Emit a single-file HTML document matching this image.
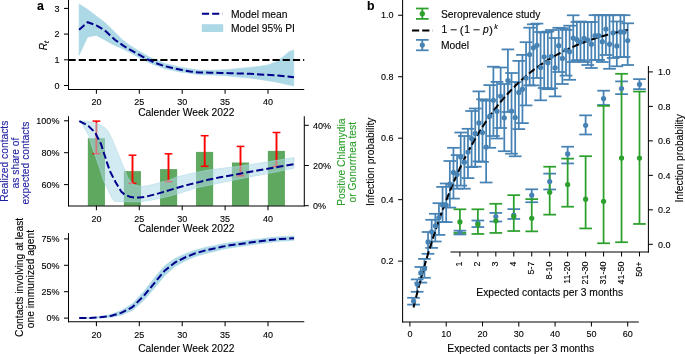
<!DOCTYPE html>
<html><head><meta charset="utf-8"><style>
html,body{margin:0;padding:0;background:#fff;width:685px;height:354px;overflow:hidden;}
svg{display:block;font-family:"Liberation Sans", sans-serif;will-change:transform;}
</style></head><body>
<svg width="685" height="354" viewBox="0 0 685 354" font-family='"Liberation Sans", sans-serif'><polygon points="79.10,4.00 87.70,9.50 96.30,16.00 104.90,22.60 113.40,30.70 122.00,39.50 130.00,45.50 140.00,51.63 150.00,57.36 165.00,63.57 180.00,67.22 200.00,70.20 215.00,70.20 226.00,69.78 238.00,68.44 250.00,67.40 260.00,66.30 268.00,64.88 275.00,62.35 280.00,59.20 285.00,55.27 289.00,51.73 293.80,49.98 293.80,85.88 289.00,84.93 285.00,84.07 280.00,82.90 275.00,81.95 268.00,80.68 260.00,79.40 250.00,78.10 238.00,77.04 226.00,75.68 215.00,75.10 200.00,74.70 180.00,71.92 165.00,68.77 150.00,63.26 140.00,58.13 130.00,52.60 122.00,48.40 113.40,44.80 104.90,40.00 96.30,35.40 87.70,36.90 79.10,55.20" fill="#add8e6" stroke="#add8e6" stroke-width="0.6"/>
<line x1="68.50" y1="59.90" x2="304.20" y2="59.90" stroke="#000" stroke-width="1.95" stroke-dasharray="7.2 3.0"/>
<path d="M79.10,29.70 L87.70,22.20 L96.30,25.40 L104.90,30.50 L110.00,35.30 L115.50,40.20 L124.00,46.10 L130.00,49.75 L138.50,54.40 L147.00,59.10 L155.40,62.90 L163.90,65.90 L172.40,68.00 L180.90,69.70 L190.00,71.60 L200.00,72.50 L210.00,72.70 L220.00,72.90 L230.00,73.20 L240.00,73.50 L250.00,73.80 L260.00,74.40 L270.00,75.00 L280.00,75.70 L294.00,77.30" fill="none" stroke="#00008b" stroke-width="2.0" stroke-dasharray="7.2 3.0"/>
<line x1="68.50" y1="0.00" x2="68.50" y2="89.80" stroke="#000" stroke-width="1.03" />
<line x1="68.00" y1="89.50" x2="304.20" y2="89.50" stroke="#000" stroke-width="1.03" />
<line x1="64.00" y1="8.40" x2="68.50" y2="8.40" stroke="#000" stroke-width="1.03" />
<text x="59.40" y="11.60" font-size="9.0" text-anchor="end" fill="#000" stroke="#000" stroke-width="0.12" font-weight="normal" font-style="normal" >3</text>
<line x1="64.00" y1="34.10" x2="68.50" y2="34.10" stroke="#000" stroke-width="1.03" />
<text x="59.40" y="37.30" font-size="9.0" text-anchor="end" fill="#000" stroke="#000" stroke-width="0.12" font-weight="normal" font-style="normal" >2</text>
<line x1="64.00" y1="59.80" x2="68.50" y2="59.80" stroke="#000" stroke-width="1.03" />
<text x="59.40" y="63.00" font-size="9.0" text-anchor="end" fill="#000" stroke="#000" stroke-width="0.12" font-weight="normal" font-style="normal" >1</text>
<line x1="64.00" y1="85.50" x2="68.50" y2="85.50" stroke="#000" stroke-width="1.03" />
<text x="59.40" y="88.70" font-size="9.0" text-anchor="end" fill="#000" stroke="#000" stroke-width="0.12" font-weight="normal" font-style="normal" >0</text>
<line x1="96.40" y1="89.30" x2="96.40" y2="93.80" stroke="#000" stroke-width="1.03" />
<text x="96.40" y="105.40" font-size="9.0" text-anchor="middle" fill="#000" stroke="#000" stroke-width="0.12" font-weight="normal" font-style="normal" >20</text>
<line x1="139.30" y1="89.30" x2="139.30" y2="93.80" stroke="#000" stroke-width="1.03" />
<text x="139.30" y="105.40" font-size="9.0" text-anchor="middle" fill="#000" stroke="#000" stroke-width="0.12" font-weight="normal" font-style="normal" >25</text>
<line x1="182.20" y1="89.30" x2="182.20" y2="93.80" stroke="#000" stroke-width="1.03" />
<text x="182.20" y="105.40" font-size="9.0" text-anchor="middle" fill="#000" stroke="#000" stroke-width="0.12" font-weight="normal" font-style="normal" >30</text>
<line x1="225.10" y1="89.30" x2="225.10" y2="93.80" stroke="#000" stroke-width="1.03" />
<text x="225.10" y="105.40" font-size="9.0" text-anchor="middle" fill="#000" stroke="#000" stroke-width="0.12" font-weight="normal" font-style="normal" >35</text>
<line x1="268.00" y1="89.30" x2="268.00" y2="93.80" stroke="#000" stroke-width="1.03" />
<text x="268.00" y="105.40" font-size="9.0" text-anchor="middle" fill="#000" stroke="#000" stroke-width="0.12" font-weight="normal" font-style="normal" >40</text>
<text x="186.30" y="115.70" font-size="10.28" text-anchor="middle" fill="#000" stroke="#000" stroke-width="0.12" font-weight="normal" font-style="normal" >Calender Week 2022</text>
<text transform="translate(47.3,50.3) rotate(-90)" font-size="10.28" fill="#000" stroke="#000" stroke-width="0.12" font-style="italic">R<tspan font-size="7.2" dy="2.0">t</tspan></text>
<line x1="201.90" y1="13.80" x2="222.50" y2="13.80" stroke="#00008b" stroke-width="2.0" stroke-dasharray="7.2 3.0"/>
<rect x="201.8" y="24.2" width="21.4" height="7.8" fill="#add8e6"/>
<text x="231.00" y="17.60" font-size="10.28" text-anchor="start" fill="#000" stroke="#000" stroke-width="0.12" font-weight="normal" font-style="normal" >Model mean</text>
<text x="231.00" y="31.60" font-size="10.28" text-anchor="start" fill="#000" stroke="#000" stroke-width="0.12" font-weight="normal" font-style="normal" >Model 95% PI</text>
<text x="37.10" y="9.70" font-size="12.3" text-anchor="start" fill="#000" stroke="#000" stroke-width="0.12" font-weight="bold" font-style="normal" >a</text>
<rect x="87.85" y="138.20" width="17.1" height="67.60" fill="#5fa85f"/>
<rect x="123.85" y="171.10" width="17.1" height="34.70" fill="#5fa85f"/>
<rect x="160.05" y="169.10" width="17.1" height="36.70" fill="#5fa85f"/>
<rect x="196.05" y="151.90" width="17.1" height="53.90" fill="#5fa85f"/>
<rect x="231.95" y="162.50" width="17.1" height="43.30" fill="#5fa85f"/>
<rect x="267.85" y="150.90" width="17.1" height="54.90" fill="#5fa85f"/>
<line x1="96.40" y1="121.10" x2="96.40" y2="153.70" stroke="#ff0000" stroke-width="1.9" />
<line x1="92.50" y1="121.10" x2="100.30" y2="121.10" stroke="#ff0000" stroke-width="1.5" />
<line x1="92.50" y1="153.70" x2="100.30" y2="153.70" stroke="#ff0000" stroke-width="1.5" />
<line x1="132.50" y1="155.20" x2="132.50" y2="183.30" stroke="#ff0000" stroke-width="1.9" />
<line x1="128.60" y1="155.20" x2="136.40" y2="155.20" stroke="#ff0000" stroke-width="1.5" />
<line x1="128.60" y1="183.30" x2="136.40" y2="183.30" stroke="#ff0000" stroke-width="1.5" />
<line x1="168.50" y1="153.80" x2="168.50" y2="181.60" stroke="#ff0000" stroke-width="1.9" />
<line x1="164.60" y1="153.80" x2="172.40" y2="153.80" stroke="#ff0000" stroke-width="1.5" />
<line x1="164.60" y1="181.60" x2="172.40" y2="181.60" stroke="#ff0000" stroke-width="1.5" />
<line x1="204.70" y1="135.70" x2="204.70" y2="166.30" stroke="#ff0000" stroke-width="1.9" />
<line x1="200.80" y1="135.70" x2="208.60" y2="135.70" stroke="#ff0000" stroke-width="1.5" />
<line x1="200.80" y1="166.30" x2="208.60" y2="166.30" stroke="#ff0000" stroke-width="1.5" />
<line x1="240.50" y1="146.40" x2="240.50" y2="175.80" stroke="#ff0000" stroke-width="1.9" />
<line x1="236.60" y1="146.40" x2="244.40" y2="146.40" stroke="#ff0000" stroke-width="1.5" />
<line x1="236.60" y1="175.80" x2="244.40" y2="175.80" stroke="#ff0000" stroke-width="1.5" />
<line x1="276.50" y1="132.50" x2="276.50" y2="166.50" stroke="#ff0000" stroke-width="1.9" />
<line x1="272.60" y1="132.50" x2="280.40" y2="132.50" stroke="#ff0000" stroke-width="1.5" />
<line x1="272.60" y1="166.50" x2="280.40" y2="166.50" stroke="#ff0000" stroke-width="1.5" />
<polygon points="79.30,120.70 88.70,121.40 96.30,123.20 104.00,127.00 108.00,131.00 112.50,140.00 118.60,155.00 124.80,170.00 128.00,178.00 131.60,182.70 135.00,185.20 141.00,186.40 147.80,185.80 154.00,184.30 160.00,182.50 168.00,180.60 177.10,176.90 190.00,173.70 208.00,170.10 240.00,166.10 268.00,161.80 294.00,157.60 294.00,168.30 268.00,173.50 240.00,178.80 208.00,185.40 195.80,187.90 180.00,193.20 168.00,196.50 152.40,199.90 139.70,201.90 127.00,201.80 114.50,201.20 112.50,199.30 108.00,190.00 103.20,180.00 100.20,170.00 95.00,155.00 91.70,146.00 88.70,135.50 85.00,129.00 82.00,124.00 79.30,120.70" fill="rgba(173,216,230,0.55)" stroke="rgba(173,216,230,0.55)" stroke-width="1"/>
<path d="M79.30,121.10 L85.30,124.00 L88.70,126.20 L93.40,130.80 L95.50,133.40 L98.50,139.30 L101.00,144.00 L103.40,151.70 L105.60,158.00 L107.00,162.70 L110.00,171.30 L115.50,182.00 L121.40,191.90 L125.00,194.80 L129.90,196.70 L134.00,197.60 L139.70,197.60 L145.00,196.90 L150.00,195.60 L156.60,194.00 L162.00,192.40 L171.20,189.60 L180.00,187.00 L190.70,184.10 L200.00,181.90 L208.00,179.80 L220.00,177.30 L240.00,173.70 L260.00,170.00 L280.00,166.50 L294.00,164.10" fill="none" stroke="#00008b" stroke-width="2.0" stroke-dasharray="7.2 3.0"/>
<line x1="68.50" y1="116.20" x2="68.50" y2="206.30" stroke="#000" stroke-width="1.03" />
<line x1="304.30" y1="116.20" x2="304.30" y2="206.30" stroke="#000" stroke-width="1.03" />
<line x1="68.00" y1="205.90" x2="304.80" y2="205.90" stroke="#000" stroke-width="1.03" />
<line x1="64.00" y1="120.80" x2="68.50" y2="120.80" stroke="#000" stroke-width="1.03" />
<text x="59.40" y="124.00" font-size="9.0" text-anchor="end" fill="#000" stroke="#000" stroke-width="0.12" font-weight="normal" font-style="normal" >100%</text>
<line x1="64.00" y1="152.70" x2="68.50" y2="152.70" stroke="#000" stroke-width="1.03" />
<text x="59.40" y="155.90" font-size="9.0" text-anchor="end" fill="#000" stroke="#000" stroke-width="0.12" font-weight="normal" font-style="normal" >80%</text>
<line x1="64.00" y1="184.60" x2="68.50" y2="184.60" stroke="#000" stroke-width="1.03" />
<text x="59.40" y="187.80" font-size="9.0" text-anchor="end" fill="#000" stroke="#000" stroke-width="0.12" font-weight="normal" font-style="normal" >60%</text>
<line x1="304.30" y1="125.30" x2="308.80" y2="125.30" stroke="#000" stroke-width="1.03" />
<text x="313.00" y="128.50" font-size="9.0" text-anchor="start" fill="#000" stroke="#000" stroke-width="0.12" font-weight="normal" font-style="normal" >40%</text>
<line x1="304.30" y1="165.50" x2="308.80" y2="165.50" stroke="#000" stroke-width="1.03" />
<text x="313.00" y="168.70" font-size="9.0" text-anchor="start" fill="#000" stroke="#000" stroke-width="0.12" font-weight="normal" font-style="normal" >20%</text>
<line x1="304.30" y1="205.70" x2="308.80" y2="205.70" stroke="#000" stroke-width="1.03" />
<text x="313.00" y="208.90" font-size="9.0" text-anchor="start" fill="#000" stroke="#000" stroke-width="0.12" font-weight="normal" font-style="normal" >0%</text>
<line x1="96.40" y1="205.80" x2="96.40" y2="210.30" stroke="#000" stroke-width="1.03" />
<text x="96.40" y="221.90" font-size="9.0" text-anchor="middle" fill="#000" stroke="#000" stroke-width="0.12" font-weight="normal" font-style="normal" >20</text>
<line x1="139.30" y1="205.80" x2="139.30" y2="210.30" stroke="#000" stroke-width="1.03" />
<text x="139.30" y="221.90" font-size="9.0" text-anchor="middle" fill="#000" stroke="#000" stroke-width="0.12" font-weight="normal" font-style="normal" >25</text>
<line x1="182.20" y1="205.80" x2="182.20" y2="210.30" stroke="#000" stroke-width="1.03" />
<text x="182.20" y="221.90" font-size="9.0" text-anchor="middle" fill="#000" stroke="#000" stroke-width="0.12" font-weight="normal" font-style="normal" >30</text>
<line x1="225.10" y1="205.80" x2="225.10" y2="210.30" stroke="#000" stroke-width="1.03" />
<text x="225.10" y="221.90" font-size="9.0" text-anchor="middle" fill="#000" stroke="#000" stroke-width="0.12" font-weight="normal" font-style="normal" >35</text>
<line x1="268.00" y1="205.80" x2="268.00" y2="210.30" stroke="#000" stroke-width="1.03" />
<text x="268.00" y="221.90" font-size="9.0" text-anchor="middle" fill="#000" stroke="#000" stroke-width="0.12" font-weight="normal" font-style="normal" >40</text>
<text x="186.30" y="231.60" font-size="10.28" text-anchor="middle" fill="#000" stroke="#000" stroke-width="0.12" font-weight="normal" font-style="normal" >Calender Week 2022</text>
<text transform="translate(0,0) rotate(-90)" font-size="10.28" fill="#1f1fa0" stroke="#1f1fa0" stroke-width="0.12" text-anchor="middle"><tspan x="-161.2" y="7.9">Realized contacts</tspan><tspan x="-163.0" y="18.6">as share of</tspan><tspan x="-163.0" y="29.4">expected contacts</tspan></text>
<text transform="translate(0,0) rotate(-90)" font-size="10.28" fill="#2ca02c" stroke="#2ca02c" stroke-width="0.12" text-anchor="middle"><tspan x="-162.2" y="345.0">Positive Chlamydia</tspan><tspan x="-162.2" y="356.0">or Gonorrhea test</tspan></text>
<polygon points="79.20,317.80 90.00,317.60 100.00,316.40 110.60,314.60 121.20,310.50 132.28,303.80 143.74,291.40 155.01,277.10 164.95,265.40 174.86,258.40 184.95,253.90 195.30,250.00 205.90,247.20 216.00,245.20 221.70,244.00 230.00,242.60 240.00,241.40 250.00,240.10 260.00,238.90 270.00,237.60 280.00,236.70 294.00,235.90 294.00,240.50 280.00,241.30 270.00,242.40 260.00,243.70 250.00,245.10 240.00,246.60 230.00,248.00 221.70,249.60 216.00,251.20 205.90,253.40 195.30,256.60 184.95,261.10 174.86,266.80 164.95,275.40 155.01,287.50 143.74,300.60 132.28,310.60 121.20,315.30 110.60,317.40 100.00,318.00 90.00,318.40 79.20,318.40" fill="#add8e6" stroke="#add8e6" stroke-width="0.5"/>
<path d="M79.20,318.10 L90.00,318.00 L100.00,317.20 L110.60,316.00 L121.20,312.90 L132.28,307.20 L143.74,296.00 L155.01,282.30 L164.95,270.40 L174.86,262.60 L184.95,257.50 L195.30,253.30 L205.90,250.30 L216.00,248.20 L221.70,246.80 L230.00,245.30 L240.00,244.00 L250.00,242.60 L260.00,241.30 L270.00,240.00 L280.00,239.00 L294.00,238.20" fill="none" stroke="#00008b" stroke-width="2.0" stroke-dasharray="7.2 3.0"/>
<line x1="68.50" y1="233.10" x2="68.50" y2="322.30" stroke="#000" stroke-width="1.03" />
<line x1="68.00" y1="321.80" x2="304.30" y2="321.80" stroke="#000" stroke-width="1.03" />
<line x1="64.00" y1="238.90" x2="68.50" y2="238.90" stroke="#000" stroke-width="1.03" />
<text x="59.40" y="242.10" font-size="9.0" text-anchor="end" fill="#000" stroke="#000" stroke-width="0.12" font-weight="normal" font-style="normal" >75%</text>
<line x1="64.00" y1="265.30" x2="68.50" y2="265.30" stroke="#000" stroke-width="1.03" />
<text x="59.40" y="268.50" font-size="9.0" text-anchor="end" fill="#000" stroke="#000" stroke-width="0.12" font-weight="normal" font-style="normal" >50%</text>
<line x1="64.00" y1="291.70" x2="68.50" y2="291.70" stroke="#000" stroke-width="1.03" />
<text x="59.40" y="294.90" font-size="9.0" text-anchor="end" fill="#000" stroke="#000" stroke-width="0.12" font-weight="normal" font-style="normal" >25%</text>
<line x1="64.00" y1="318.10" x2="68.50" y2="318.10" stroke="#000" stroke-width="1.03" />
<text x="59.40" y="321.30" font-size="9.0" text-anchor="end" fill="#000" stroke="#000" stroke-width="0.12" font-weight="normal" font-style="normal" >0%</text>
<line x1="96.40" y1="321.80" x2="96.40" y2="326.30" stroke="#000" stroke-width="1.03" />
<text x="96.40" y="337.90" font-size="9.0" text-anchor="middle" fill="#000" stroke="#000" stroke-width="0.12" font-weight="normal" font-style="normal" >20</text>
<line x1="139.30" y1="321.80" x2="139.30" y2="326.30" stroke="#000" stroke-width="1.03" />
<text x="139.30" y="337.90" font-size="9.0" text-anchor="middle" fill="#000" stroke="#000" stroke-width="0.12" font-weight="normal" font-style="normal" >25</text>
<line x1="182.20" y1="321.80" x2="182.20" y2="326.30" stroke="#000" stroke-width="1.03" />
<text x="182.20" y="337.90" font-size="9.0" text-anchor="middle" fill="#000" stroke="#000" stroke-width="0.12" font-weight="normal" font-style="normal" >30</text>
<line x1="225.10" y1="321.80" x2="225.10" y2="326.30" stroke="#000" stroke-width="1.03" />
<text x="225.10" y="337.90" font-size="9.0" text-anchor="middle" fill="#000" stroke="#000" stroke-width="0.12" font-weight="normal" font-style="normal" >35</text>
<line x1="268.00" y1="321.80" x2="268.00" y2="326.30" stroke="#000" stroke-width="1.03" />
<text x="268.00" y="337.90" font-size="9.0" text-anchor="middle" fill="#000" stroke="#000" stroke-width="0.12" font-weight="normal" font-style="normal" >40</text>
<text x="186.30" y="351.90" font-size="10.28" text-anchor="middle" fill="#000" stroke="#000" stroke-width="0.12" font-weight="normal" font-style="normal" >Calender Week 2022</text>
<text transform="translate(0,0) rotate(-90)" font-size="10.28" fill="#000" stroke="#000" stroke-width="0.12" text-anchor="middle"><tspan x="-277.4" y="22.9">Contacts involving at least</tspan><tspan x="-279.1" y="33.9">one immunized agent</tspan></text>
<line x1="413.53" y1="297.80" x2="413.53" y2="304.60" stroke="#4682b4" stroke-width="1.75" />
<line x1="407.18" y1="297.80" x2="419.88" y2="297.80" stroke="#4682b4" stroke-width="1.75" />
<line x1="407.18" y1="304.60" x2="419.88" y2="304.60" stroke="#4682b4" stroke-width="1.75" />
<line x1="417.16" y1="279.40" x2="417.16" y2="291.80" stroke="#4682b4" stroke-width="1.75" />
<line x1="410.81" y1="279.40" x2="423.51" y2="279.40" stroke="#4682b4" stroke-width="1.75" />
<line x1="410.81" y1="291.80" x2="423.51" y2="291.80" stroke="#4682b4" stroke-width="1.75" />
<line x1="420.79" y1="267.00" x2="420.79" y2="282.60" stroke="#4682b4" stroke-width="1.75" />
<line x1="414.44" y1="267.00" x2="427.14" y2="267.00" stroke="#4682b4" stroke-width="1.75" />
<line x1="414.44" y1="282.60" x2="427.14" y2="282.60" stroke="#4682b4" stroke-width="1.75" />
<line x1="424.42" y1="258.90" x2="424.42" y2="277.80" stroke="#4682b4" stroke-width="1.75" />
<line x1="418.07" y1="258.90" x2="430.77" y2="258.90" stroke="#4682b4" stroke-width="1.75" />
<line x1="418.07" y1="277.80" x2="430.77" y2="277.80" stroke="#4682b4" stroke-width="1.75" />
<line x1="428.05" y1="232.00" x2="428.05" y2="253.80" stroke="#4682b4" stroke-width="1.75" />
<line x1="421.70" y1="232.00" x2="434.40" y2="232.00" stroke="#4682b4" stroke-width="1.75" />
<line x1="421.70" y1="253.80" x2="434.40" y2="253.80" stroke="#4682b4" stroke-width="1.75" />
<line x1="431.68" y1="219.80" x2="431.68" y2="247.90" stroke="#4682b4" stroke-width="1.75" />
<line x1="425.33" y1="219.80" x2="438.03" y2="219.80" stroke="#4682b4" stroke-width="1.75" />
<line x1="425.33" y1="247.90" x2="438.03" y2="247.90" stroke="#4682b4" stroke-width="1.75" />
<line x1="435.31" y1="213.80" x2="435.31" y2="241.50" stroke="#4682b4" stroke-width="1.75" />
<line x1="428.96" y1="213.80" x2="441.66" y2="213.80" stroke="#4682b4" stroke-width="1.75" />
<line x1="428.96" y1="241.50" x2="441.66" y2="241.50" stroke="#4682b4" stroke-width="1.75" />
<line x1="438.94" y1="203.20" x2="438.94" y2="234.90" stroke="#4682b4" stroke-width="1.75" />
<line x1="432.59" y1="203.20" x2="445.29" y2="203.20" stroke="#4682b4" stroke-width="1.75" />
<line x1="432.59" y1="234.90" x2="445.29" y2="234.90" stroke="#4682b4" stroke-width="1.75" />
<line x1="442.57" y1="186.90" x2="442.57" y2="222.00" stroke="#4682b4" stroke-width="1.75" />
<line x1="436.22" y1="186.90" x2="448.92" y2="186.90" stroke="#4682b4" stroke-width="1.75" />
<line x1="436.22" y1="222.00" x2="448.92" y2="222.00" stroke="#4682b4" stroke-width="1.75" />
<line x1="446.20" y1="183.50" x2="446.20" y2="222.10" stroke="#4682b4" stroke-width="1.75" />
<line x1="439.85" y1="183.50" x2="452.55" y2="183.50" stroke="#4682b4" stroke-width="1.75" />
<line x1="439.85" y1="222.10" x2="452.55" y2="222.10" stroke="#4682b4" stroke-width="1.75" />
<line x1="449.83" y1="161.00" x2="449.83" y2="207.60" stroke="#4682b4" stroke-width="1.75" />
<line x1="443.48" y1="161.00" x2="456.18" y2="161.00" stroke="#4682b4" stroke-width="1.75" />
<line x1="443.48" y1="207.60" x2="456.18" y2="207.60" stroke="#4682b4" stroke-width="1.75" />
<line x1="453.46" y1="147.80" x2="453.46" y2="198.60" stroke="#4682b4" stroke-width="1.75" />
<line x1="447.11" y1="147.80" x2="459.81" y2="147.80" stroke="#4682b4" stroke-width="1.75" />
<line x1="447.11" y1="198.60" x2="459.81" y2="198.60" stroke="#4682b4" stroke-width="1.75" />
<line x1="457.09" y1="155.10" x2="457.09" y2="188.70" stroke="#4682b4" stroke-width="1.75" />
<line x1="450.74" y1="155.10" x2="463.44" y2="155.10" stroke="#4682b4" stroke-width="1.75" />
<line x1="450.74" y1="188.70" x2="463.44" y2="188.70" stroke="#4682b4" stroke-width="1.75" />
<line x1="460.72" y1="132.50" x2="460.72" y2="185.60" stroke="#4682b4" stroke-width="1.75" />
<line x1="454.37" y1="132.50" x2="467.07" y2="132.50" stroke="#4682b4" stroke-width="1.75" />
<line x1="454.37" y1="185.60" x2="467.07" y2="185.60" stroke="#4682b4" stroke-width="1.75" />
<line x1="464.35" y1="136.00" x2="464.35" y2="188.70" stroke="#4682b4" stroke-width="1.75" />
<line x1="458.00" y1="136.00" x2="470.70" y2="136.00" stroke="#4682b4" stroke-width="1.75" />
<line x1="458.00" y1="188.70" x2="470.70" y2="188.70" stroke="#4682b4" stroke-width="1.75" />
<line x1="467.98" y1="128.80" x2="467.98" y2="178.10" stroke="#4682b4" stroke-width="1.75" />
<line x1="461.63" y1="128.80" x2="474.33" y2="128.80" stroke="#4682b4" stroke-width="1.75" />
<line x1="461.63" y1="178.10" x2="474.33" y2="178.10" stroke="#4682b4" stroke-width="1.75" />
<line x1="471.61" y1="111.00" x2="471.61" y2="167.10" stroke="#4682b4" stroke-width="1.75" />
<line x1="465.26" y1="111.00" x2="477.96" y2="111.00" stroke="#4682b4" stroke-width="1.75" />
<line x1="465.26" y1="167.10" x2="477.96" y2="167.10" stroke="#4682b4" stroke-width="1.75" />
<line x1="475.24" y1="108.50" x2="475.24" y2="166.70" stroke="#4682b4" stroke-width="1.75" />
<line x1="468.89" y1="108.50" x2="481.59" y2="108.50" stroke="#4682b4" stroke-width="1.75" />
<line x1="468.89" y1="166.70" x2="481.59" y2="166.70" stroke="#4682b4" stroke-width="1.75" />
<line x1="478.87" y1="91.40" x2="478.87" y2="161.40" stroke="#4682b4" stroke-width="1.75" />
<line x1="472.52" y1="91.40" x2="485.22" y2="91.40" stroke="#4682b4" stroke-width="1.75" />
<line x1="472.52" y1="161.40" x2="485.22" y2="161.40" stroke="#4682b4" stroke-width="1.75" />
<line x1="482.50" y1="99.30" x2="482.50" y2="161.90" stroke="#4682b4" stroke-width="1.75" />
<line x1="476.15" y1="99.30" x2="488.85" y2="99.30" stroke="#4682b4" stroke-width="1.75" />
<line x1="476.15" y1="161.90" x2="488.85" y2="161.90" stroke="#4682b4" stroke-width="1.75" />
<line x1="486.13" y1="100.70" x2="486.13" y2="182.50" stroke="#4682b4" stroke-width="1.75" />
<line x1="479.78" y1="100.70" x2="492.48" y2="100.70" stroke="#4682b4" stroke-width="1.75" />
<line x1="479.78" y1="182.50" x2="492.48" y2="182.50" stroke="#4682b4" stroke-width="1.75" />
<line x1="489.76" y1="85.10" x2="489.76" y2="147.80" stroke="#4682b4" stroke-width="1.75" />
<line x1="483.41" y1="85.10" x2="496.11" y2="85.10" stroke="#4682b4" stroke-width="1.75" />
<line x1="483.41" y1="147.80" x2="496.11" y2="147.80" stroke="#4682b4" stroke-width="1.75" />
<line x1="493.39" y1="66.70" x2="493.39" y2="136.00" stroke="#4682b4" stroke-width="1.75" />
<line x1="487.04" y1="66.70" x2="499.74" y2="66.70" stroke="#4682b4" stroke-width="1.75" />
<line x1="487.04" y1="136.00" x2="499.74" y2="136.00" stroke="#4682b4" stroke-width="1.75" />
<line x1="497.02" y1="81.90" x2="497.02" y2="138.50" stroke="#4682b4" stroke-width="1.75" />
<line x1="490.67" y1="81.90" x2="503.37" y2="81.90" stroke="#4682b4" stroke-width="1.75" />
<line x1="490.67" y1="138.50" x2="503.37" y2="138.50" stroke="#4682b4" stroke-width="1.75" />
<line x1="500.65" y1="67.50" x2="500.65" y2="128.00" stroke="#4682b4" stroke-width="1.75" />
<line x1="494.30" y1="67.50" x2="507.00" y2="67.50" stroke="#4682b4" stroke-width="1.75" />
<line x1="494.30" y1="128.00" x2="507.00" y2="128.00" stroke="#4682b4" stroke-width="1.75" />
<line x1="504.28" y1="84.00" x2="504.28" y2="151.20" stroke="#4682b4" stroke-width="1.75" />
<line x1="497.93" y1="84.00" x2="510.63" y2="84.00" stroke="#4682b4" stroke-width="1.75" />
<line x1="497.93" y1="151.20" x2="510.63" y2="151.20" stroke="#4682b4" stroke-width="1.75" />
<line x1="507.91" y1="49.40" x2="507.91" y2="112.00" stroke="#4682b4" stroke-width="1.75" />
<line x1="501.56" y1="49.40" x2="514.26" y2="49.40" stroke="#4682b4" stroke-width="1.75" />
<line x1="501.56" y1="112.00" x2="514.26" y2="112.00" stroke="#4682b4" stroke-width="1.75" />
<line x1="511.54" y1="73.00" x2="511.54" y2="153.70" stroke="#4682b4" stroke-width="1.75" />
<line x1="505.19" y1="73.00" x2="517.89" y2="73.00" stroke="#4682b4" stroke-width="1.75" />
<line x1="505.19" y1="153.70" x2="517.89" y2="153.70" stroke="#4682b4" stroke-width="1.75" />
<line x1="515.17" y1="82.00" x2="515.17" y2="156.30" stroke="#4682b4" stroke-width="1.75" />
<line x1="508.82" y1="82.00" x2="521.52" y2="82.00" stroke="#4682b4" stroke-width="1.75" />
<line x1="508.82" y1="156.30" x2="521.52" y2="156.30" stroke="#4682b4" stroke-width="1.75" />
<line x1="518.80" y1="60.90" x2="518.80" y2="129.10" stroke="#4682b4" stroke-width="1.75" />
<line x1="512.45" y1="60.90" x2="525.15" y2="60.90" stroke="#4682b4" stroke-width="1.75" />
<line x1="512.45" y1="129.10" x2="525.15" y2="129.10" stroke="#4682b4" stroke-width="1.75" />
<line x1="522.43" y1="54.90" x2="522.43" y2="123.10" stroke="#4682b4" stroke-width="1.75" />
<line x1="516.08" y1="54.90" x2="528.78" y2="54.90" stroke="#4682b4" stroke-width="1.75" />
<line x1="516.08" y1="123.10" x2="528.78" y2="123.10" stroke="#4682b4" stroke-width="1.75" />
<line x1="526.06" y1="42.20" x2="526.06" y2="105.40" stroke="#4682b4" stroke-width="1.75" />
<line x1="519.71" y1="42.20" x2="532.41" y2="42.20" stroke="#4682b4" stroke-width="1.75" />
<line x1="519.71" y1="105.40" x2="532.41" y2="105.40" stroke="#4682b4" stroke-width="1.75" />
<line x1="529.69" y1="27.70" x2="529.69" y2="85.40" stroke="#4682b4" stroke-width="1.75" />
<line x1="523.34" y1="27.70" x2="536.04" y2="27.70" stroke="#4682b4" stroke-width="1.75" />
<line x1="523.34" y1="85.40" x2="536.04" y2="85.40" stroke="#4682b4" stroke-width="1.75" />
<line x1="533.32" y1="24.30" x2="533.32" y2="85.40" stroke="#4682b4" stroke-width="1.75" />
<line x1="526.97" y1="24.30" x2="539.67" y2="24.30" stroke="#4682b4" stroke-width="1.75" />
<line x1="526.97" y1="85.40" x2="539.67" y2="85.40" stroke="#4682b4" stroke-width="1.75" />
<line x1="536.95" y1="23.60" x2="536.95" y2="78.00" stroke="#4682b4" stroke-width="1.75" />
<line x1="530.60" y1="23.60" x2="543.30" y2="23.60" stroke="#4682b4" stroke-width="1.75" />
<line x1="530.60" y1="78.00" x2="543.30" y2="78.00" stroke="#4682b4" stroke-width="1.75" />
<line x1="540.58" y1="32.00" x2="540.58" y2="100.30" stroke="#4682b4" stroke-width="1.75" />
<line x1="534.23" y1="32.00" x2="546.93" y2="32.00" stroke="#4682b4" stroke-width="1.75" />
<line x1="534.23" y1="100.30" x2="546.93" y2="100.30" stroke="#4682b4" stroke-width="1.75" />
<line x1="544.21" y1="32.50" x2="544.21" y2="88.00" stroke="#4682b4" stroke-width="1.75" />
<line x1="537.86" y1="32.50" x2="550.56" y2="32.50" stroke="#4682b4" stroke-width="1.75" />
<line x1="537.86" y1="88.00" x2="550.56" y2="88.00" stroke="#4682b4" stroke-width="1.75" />
<line x1="547.84" y1="31.60" x2="547.84" y2="89.20" stroke="#4682b4" stroke-width="1.75" />
<line x1="541.49" y1="31.60" x2="554.19" y2="31.60" stroke="#4682b4" stroke-width="1.75" />
<line x1="541.49" y1="89.20" x2="554.19" y2="89.20" stroke="#4682b4" stroke-width="1.75" />
<line x1="551.47" y1="30.00" x2="551.47" y2="88.30" stroke="#4682b4" stroke-width="1.75" />
<line x1="545.12" y1="30.00" x2="557.82" y2="30.00" stroke="#4682b4" stroke-width="1.75" />
<line x1="545.12" y1="88.30" x2="557.82" y2="88.30" stroke="#4682b4" stroke-width="1.75" />
<line x1="555.10" y1="38.00" x2="555.10" y2="96.40" stroke="#4682b4" stroke-width="1.75" />
<line x1="548.75" y1="38.00" x2="561.45" y2="38.00" stroke="#4682b4" stroke-width="1.75" />
<line x1="548.75" y1="96.40" x2="561.45" y2="96.40" stroke="#4682b4" stroke-width="1.75" />
<line x1="558.73" y1="27.80" x2="558.73" y2="72.00" stroke="#4682b4" stroke-width="1.75" />
<line x1="552.38" y1="27.80" x2="565.08" y2="27.80" stroke="#4682b4" stroke-width="1.75" />
<line x1="552.38" y1="72.00" x2="565.08" y2="72.00" stroke="#4682b4" stroke-width="1.75" />
<line x1="562.36" y1="28.20" x2="562.36" y2="84.00" stroke="#4682b4" stroke-width="1.75" />
<line x1="556.01" y1="28.20" x2="568.71" y2="28.20" stroke="#4682b4" stroke-width="1.75" />
<line x1="556.01" y1="84.00" x2="568.71" y2="84.00" stroke="#4682b4" stroke-width="1.75" />
<line x1="565.99" y1="29.90" x2="565.99" y2="75.60" stroke="#4682b4" stroke-width="1.75" />
<line x1="559.64" y1="29.90" x2="572.34" y2="29.90" stroke="#4682b4" stroke-width="1.75" />
<line x1="559.64" y1="75.60" x2="572.34" y2="75.60" stroke="#4682b4" stroke-width="1.75" />
<line x1="569.62" y1="25.70" x2="569.62" y2="79.80" stroke="#4682b4" stroke-width="1.75" />
<line x1="563.27" y1="25.70" x2="575.97" y2="25.70" stroke="#4682b4" stroke-width="1.75" />
<line x1="563.27" y1="79.80" x2="575.97" y2="79.80" stroke="#4682b4" stroke-width="1.75" />
<line x1="573.25" y1="15.30" x2="573.25" y2="62.00" stroke="#4682b4" stroke-width="1.75" />
<line x1="566.90" y1="15.30" x2="579.60" y2="15.30" stroke="#4682b4" stroke-width="1.75" />
<line x1="566.90" y1="62.00" x2="579.60" y2="62.00" stroke="#4682b4" stroke-width="1.75" />
<line x1="576.88" y1="22.00" x2="576.88" y2="60.30" stroke="#4682b4" stroke-width="1.75" />
<line x1="570.53" y1="22.00" x2="583.23" y2="22.00" stroke="#4682b4" stroke-width="1.75" />
<line x1="570.53" y1="60.30" x2="583.23" y2="60.30" stroke="#4682b4" stroke-width="1.75" />
<line x1="580.51" y1="21.50" x2="580.51" y2="60.30" stroke="#4682b4" stroke-width="1.75" />
<line x1="574.16" y1="21.50" x2="586.86" y2="21.50" stroke="#4682b4" stroke-width="1.75" />
<line x1="574.16" y1="60.30" x2="586.86" y2="60.30" stroke="#4682b4" stroke-width="1.75" />
<line x1="584.14" y1="22.00" x2="584.14" y2="62.00" stroke="#4682b4" stroke-width="1.75" />
<line x1="577.79" y1="22.00" x2="590.49" y2="22.00" stroke="#4682b4" stroke-width="1.75" />
<line x1="577.79" y1="62.00" x2="590.49" y2="62.00" stroke="#4682b4" stroke-width="1.75" />
<line x1="587.77" y1="22.00" x2="587.77" y2="65.00" stroke="#4682b4" stroke-width="1.75" />
<line x1="581.42" y1="22.00" x2="594.12" y2="22.00" stroke="#4682b4" stroke-width="1.75" />
<line x1="581.42" y1="65.00" x2="594.12" y2="65.00" stroke="#4682b4" stroke-width="1.75" />
<line x1="591.40" y1="22.00" x2="591.40" y2="68.00" stroke="#4682b4" stroke-width="1.75" />
<line x1="585.05" y1="22.00" x2="597.75" y2="22.00" stroke="#4682b4" stroke-width="1.75" />
<line x1="585.05" y1="68.00" x2="597.75" y2="68.00" stroke="#4682b4" stroke-width="1.75" />
<line x1="595.03" y1="15.20" x2="595.03" y2="60.00" stroke="#4682b4" stroke-width="1.75" />
<line x1="588.68" y1="15.20" x2="601.38" y2="15.20" stroke="#4682b4" stroke-width="1.75" />
<line x1="588.68" y1="60.00" x2="601.38" y2="60.00" stroke="#4682b4" stroke-width="1.75" />
<line x1="598.66" y1="15.20" x2="598.66" y2="60.00" stroke="#4682b4" stroke-width="1.75" />
<line x1="592.31" y1="15.20" x2="605.01" y2="15.20" stroke="#4682b4" stroke-width="1.75" />
<line x1="592.31" y1="60.00" x2="605.01" y2="60.00" stroke="#4682b4" stroke-width="1.75" />
<line x1="602.29" y1="15.20" x2="602.29" y2="62.00" stroke="#4682b4" stroke-width="1.75" />
<line x1="595.94" y1="15.20" x2="608.64" y2="15.20" stroke="#4682b4" stroke-width="1.75" />
<line x1="595.94" y1="62.00" x2="608.64" y2="62.00" stroke="#4682b4" stroke-width="1.75" />
<line x1="605.92" y1="15.20" x2="605.92" y2="55.00" stroke="#4682b4" stroke-width="1.75" />
<line x1="599.57" y1="15.20" x2="612.27" y2="15.20" stroke="#4682b4" stroke-width="1.75" />
<line x1="599.57" y1="55.00" x2="612.27" y2="55.00" stroke="#4682b4" stroke-width="1.75" />
<line x1="609.55" y1="15.20" x2="609.55" y2="68.80" stroke="#4682b4" stroke-width="1.75" />
<line x1="603.20" y1="15.20" x2="615.90" y2="15.20" stroke="#4682b4" stroke-width="1.75" />
<line x1="603.20" y1="68.80" x2="615.90" y2="68.80" stroke="#4682b4" stroke-width="1.75" />
<line x1="613.18" y1="15.20" x2="613.18" y2="58.00" stroke="#4682b4" stroke-width="1.75" />
<line x1="606.83" y1="15.20" x2="619.53" y2="15.20" stroke="#4682b4" stroke-width="1.75" />
<line x1="606.83" y1="58.00" x2="619.53" y2="58.00" stroke="#4682b4" stroke-width="1.75" />
<line x1="616.81" y1="21.50" x2="616.81" y2="66.30" stroke="#4682b4" stroke-width="1.75" />
<line x1="610.46" y1="21.50" x2="623.16" y2="21.50" stroke="#4682b4" stroke-width="1.75" />
<line x1="610.46" y1="66.30" x2="623.16" y2="66.30" stroke="#4682b4" stroke-width="1.75" />
<line x1="620.44" y1="15.20" x2="620.44" y2="57.00" stroke="#4682b4" stroke-width="1.75" />
<line x1="614.09" y1="15.20" x2="626.79" y2="15.20" stroke="#4682b4" stroke-width="1.75" />
<line x1="614.09" y1="57.00" x2="626.79" y2="57.00" stroke="#4682b4" stroke-width="1.75" />
<line x1="624.07" y1="15.20" x2="624.07" y2="57.00" stroke="#4682b4" stroke-width="1.75" />
<line x1="617.72" y1="15.20" x2="630.42" y2="15.20" stroke="#4682b4" stroke-width="1.75" />
<line x1="617.72" y1="57.00" x2="630.42" y2="57.00" stroke="#4682b4" stroke-width="1.75" />
<line x1="627.70" y1="23.30" x2="627.70" y2="65.00" stroke="#4682b4" stroke-width="1.75" />
<line x1="621.35" y1="23.30" x2="634.05" y2="23.30" stroke="#4682b4" stroke-width="1.75" />
<line x1="621.35" y1="65.00" x2="634.05" y2="65.00" stroke="#4682b4" stroke-width="1.75" />
<path d="M413.53,307.42 L414.44,303.74 L415.34,300.11 L416.25,296.52 L417.16,292.98 L418.07,289.49 L418.97,286.04 L419.88,282.63 L420.79,279.26 L421.70,275.94 L422.60,272.66 L423.51,269.42 L424.42,266.22 L425.33,263.06 L426.23,259.94 L427.14,256.86 L428.05,253.82 L428.96,250.82 L429.86,247.86 L430.77,244.93 L431.68,242.04 L432.59,239.18 L433.50,236.37 L434.40,233.58 L435.31,230.83 L436.22,228.12 L437.12,225.44 L438.03,222.80 L438.94,220.18 L439.85,217.61 L440.75,215.06 L441.66,212.54 L442.57,210.06 L443.48,207.61 L444.38,205.19 L445.29,202.80 L446.20,200.44 L447.11,198.11 L448.01,195.81 L448.92,193.53 L449.83,191.29 L450.74,189.07 L451.64,186.89 L452.55,184.73 L453.46,182.59 L454.37,180.49 L455.27,178.41 L456.18,176.35 L457.09,174.33 L458.00,172.32 L458.90,170.35 L459.81,168.40 L460.72,166.47 L461.63,164.56 L462.53,162.69 L463.44,160.83 L464.35,159.00 L465.26,157.19 L466.16,155.40 L467.07,153.64 L467.98,151.90 L468.89,150.18 L469.79,148.48 L470.70,146.80 L471.61,145.15 L472.52,143.51 L473.42,141.90 L474.33,140.30 L475.24,138.73 L476.15,137.18 L477.05,135.64 L477.96,134.13 L478.87,132.63 L479.78,131.15 L480.68,129.69 L481.59,128.25 L482.50,126.83 L483.41,125.43 L484.31,124.04 L485.22,122.67 L486.13,121.32 L487.04,119.98 L487.94,118.67 L488.85,117.36 L489.76,116.08 L490.67,114.81 L491.57,113.56 L492.48,112.32 L493.39,111.10 L494.30,109.89 L495.20,108.70 L496.11,107.52 L497.02,106.36 L497.93,105.22 L498.83,104.08 L499.74,102.97 L500.65,101.86 L501.56,100.77 L502.46,99.70 L503.37,98.63 L504.28,97.58 L505.19,96.55 L506.09,95.52 L507.00,94.51 L507.91,93.52 L508.82,92.53 L509.72,91.56 L510.63,90.60 L511.54,89.65 L512.45,88.71 L513.36,87.79 L514.26,86.88 L515.17,85.97 L516.08,85.08 L516.99,84.21 L517.89,83.34 L518.80,82.48 L519.71,81.63 L520.62,80.80 L521.52,79.97 L522.43,79.16 L523.34,78.36 L524.25,77.56 L525.15,76.78 L526.06,76.00 L526.97,75.24 L527.88,74.48 L528.78,73.74 L529.69,73.00 L530.60,72.27 L531.50,71.56 L532.41,70.85 L533.32,70.15 L534.23,69.46 L535.13,68.78 L536.04,68.10 L536.95,67.44 L537.86,66.78 L538.76,66.13 L539.67,65.49 L540.58,64.86 L541.49,64.23 L542.39,63.62 L543.30,63.01 L544.21,62.41 L545.12,61.81 L546.02,61.23 L546.93,60.65 L547.84,60.08 L548.75,59.51 L549.65,58.96 L550.56,58.41 L551.47,57.86 L552.38,57.33 L553.28,56.80 L554.19,56.27 L555.10,55.76 L556.01,55.25 L556.91,54.75 L557.82,54.25 L558.73,53.76 L559.64,53.27 L560.54,52.79 L561.45,52.32 L562.36,51.86 L563.27,51.39 L564.17,50.94 L565.08,50.49 L565.99,50.05 L566.90,49.61 L567.80,49.18 L568.71,48.75 L569.62,48.33 L570.53,47.91 L571.43,47.50 L572.34,47.09 L573.25,46.69 L574.16,46.30 L575.06,45.91 L575.97,45.52 L576.88,45.14 L577.79,44.76 L578.69,44.39 L579.60,44.03 L580.51,43.66 L581.42,43.31 L582.32,42.95 L583.23,42.60 L584.14,42.26 L585.05,41.92 L585.95,41.58 L586.86,41.25 L587.77,40.93 L588.68,40.60 L589.59,40.28 L590.49,39.97 L591.40,39.66 L592.31,39.35 L593.21,39.05 L594.12,38.75 L595.03,38.45 L595.94,38.16 L596.85,37.87 L597.75,37.59 L598.66,37.31 L599.57,37.03 L600.47,36.75 L601.38,36.48 L602.29,36.22 L603.20,35.95 L604.11,35.69 L605.01,35.43 L605.92,35.18 L606.83,34.93 L607.74,34.68 L608.64,34.44 L609.55,34.20 L610.46,33.96 L611.37,33.72 L612.27,33.49 L613.18,33.26 L614.09,33.03 L615.00,32.81 L615.90,32.59 L616.81,32.37 L617.72,32.15 L618.62,31.94 L619.53,31.73 L620.44,31.52 L621.35,31.32 L622.25,31.12 L623.16,30.92 L624.07,30.72 L624.98,30.53 L625.88,30.33 L626.79,30.14 L627.70,29.96" fill="none" stroke="#000" stroke-width="2.0" stroke-dasharray="7.2 3.0"/>
<circle cx="413.53" cy="301.00" r="2.6" fill="#4682b4"/>
<circle cx="417.16" cy="284.00" r="2.6" fill="#4682b4"/>
<circle cx="420.79" cy="272.90" r="2.6" fill="#4682b4"/>
<circle cx="424.42" cy="268.70" r="2.6" fill="#4682b4"/>
<circle cx="428.05" cy="241.90" r="2.6" fill="#4682b4"/>
<circle cx="431.68" cy="231.80" r="2.6" fill="#4682b4"/>
<circle cx="435.31" cy="225.80" r="2.6" fill="#4682b4"/>
<circle cx="438.94" cy="217.50" r="2.6" fill="#4682b4"/>
<circle cx="442.57" cy="205.00" r="2.6" fill="#4682b4"/>
<circle cx="446.20" cy="205.00" r="2.6" fill="#4682b4"/>
<circle cx="449.83" cy="184.20" r="2.6" fill="#4682b4"/>
<circle cx="453.46" cy="172.40" r="2.6" fill="#4682b4"/>
<circle cx="457.09" cy="174.40" r="2.6" fill="#4682b4"/>
<circle cx="460.72" cy="157.10" r="2.6" fill="#4682b4"/>
<circle cx="464.35" cy="162.20" r="2.6" fill="#4682b4"/>
<circle cx="467.98" cy="152.00" r="2.6" fill="#4682b4"/>
<circle cx="471.61" cy="138.50" r="2.6" fill="#4682b4"/>
<circle cx="475.24" cy="133.40" r="2.6" fill="#4682b4"/>
<circle cx="478.87" cy="122.90" r="2.6" fill="#4682b4"/>
<circle cx="482.50" cy="132.60" r="2.6" fill="#4682b4"/>
<circle cx="486.13" cy="147.00" r="2.6" fill="#4682b4"/>
<circle cx="489.76" cy="116.20" r="2.6" fill="#4682b4"/>
<circle cx="493.39" cy="100.30" r="2.6" fill="#4682b4"/>
<circle cx="497.02" cy="111.30" r="2.6" fill="#4682b4"/>
<circle cx="500.65" cy="96.00" r="2.6" fill="#4682b4"/>
<circle cx="504.28" cy="117.80" r="2.6" fill="#4682b4"/>
<circle cx="507.91" cy="80.50" r="2.6" fill="#4682b4"/>
<circle cx="511.54" cy="111.00" r="2.6" fill="#4682b4"/>
<circle cx="515.17" cy="117.50" r="2.6" fill="#4682b4"/>
<circle cx="518.80" cy="92.40" r="2.6" fill="#4682b4"/>
<circle cx="522.43" cy="89.20" r="2.6" fill="#4682b4"/>
<circle cx="526.06" cy="78.00" r="2.6" fill="#4682b4"/>
<circle cx="529.69" cy="54.60" r="2.6" fill="#4682b4"/>
<circle cx="533.32" cy="47.80" r="2.6" fill="#4682b4"/>
<circle cx="536.95" cy="45.30" r="2.6" fill="#4682b4"/>
<circle cx="540.58" cy="67.40" r="2.6" fill="#4682b4"/>
<circle cx="544.21" cy="56.80" r="2.6" fill="#4682b4"/>
<circle cx="547.84" cy="62.70" r="2.6" fill="#4682b4"/>
<circle cx="551.47" cy="56.30" r="2.6" fill="#4682b4"/>
<circle cx="555.10" cy="67.80" r="2.6" fill="#4682b4"/>
<circle cx="558.73" cy="45.70" r="2.6" fill="#4682b4"/>
<circle cx="562.36" cy="58.40" r="2.6" fill="#4682b4"/>
<circle cx="565.99" cy="50.00" r="2.6" fill="#4682b4"/>
<circle cx="569.62" cy="51.70" r="2.6" fill="#4682b4"/>
<circle cx="573.25" cy="38.00" r="2.6" fill="#4682b4"/>
<circle cx="576.88" cy="39.60" r="2.6" fill="#4682b4"/>
<circle cx="580.51" cy="42.00" r="2.6" fill="#4682b4"/>
<circle cx="584.14" cy="38.30" r="2.6" fill="#4682b4"/>
<circle cx="587.77" cy="40.00" r="2.6" fill="#4682b4"/>
<circle cx="591.40" cy="44.20" r="2.6" fill="#4682b4"/>
<circle cx="595.03" cy="35.70" r="2.6" fill="#4682b4"/>
<circle cx="598.66" cy="35.70" r="2.6" fill="#4682b4"/>
<circle cx="602.29" cy="41.70" r="2.6" fill="#4682b4"/>
<circle cx="605.92" cy="29.00" r="2.6" fill="#4682b4"/>
<circle cx="609.55" cy="44.20" r="2.6" fill="#4682b4"/>
<circle cx="613.18" cy="32.80" r="2.6" fill="#4682b4"/>
<circle cx="616.81" cy="45.90" r="2.6" fill="#4682b4"/>
<circle cx="620.44" cy="31.90" r="2.6" fill="#4682b4"/>
<circle cx="624.07" cy="31.90" r="2.6" fill="#4682b4"/>
<circle cx="627.70" cy="40.50" r="2.6" fill="#4682b4"/>
<line x1="402.60" y1="0.00" x2="402.60" y2="322.40" stroke="#000" stroke-width="1.03" />
<line x1="402.10" y1="321.90" x2="638.80" y2="321.90" stroke="#000" stroke-width="1.03" />
<line x1="398.10" y1="261.13" x2="402.60" y2="261.13" stroke="#000" stroke-width="1.03" />
<text x="393.60" y="264.33" font-size="9.0" text-anchor="end" fill="#000" stroke="#000" stroke-width="0.12" font-weight="normal" font-style="normal" >0.2</text>
<line x1="398.10" y1="199.66" x2="402.60" y2="199.66" stroke="#000" stroke-width="1.03" />
<text x="393.60" y="202.86" font-size="9.0" text-anchor="end" fill="#000" stroke="#000" stroke-width="0.12" font-weight="normal" font-style="normal" >0.4</text>
<line x1="398.10" y1="138.19" x2="402.60" y2="138.19" stroke="#000" stroke-width="1.03" />
<text x="393.60" y="141.39" font-size="9.0" text-anchor="end" fill="#000" stroke="#000" stroke-width="0.12" font-weight="normal" font-style="normal" >0.6</text>
<line x1="398.10" y1="76.72" x2="402.60" y2="76.72" stroke="#000" stroke-width="1.03" />
<text x="393.60" y="79.92" font-size="9.0" text-anchor="end" fill="#000" stroke="#000" stroke-width="0.12" font-weight="normal" font-style="normal" >0.8</text>
<line x1="398.10" y1="15.25" x2="402.60" y2="15.25" stroke="#000" stroke-width="1.03" />
<text x="393.60" y="18.45" font-size="9.0" text-anchor="end" fill="#000" stroke="#000" stroke-width="0.12" font-weight="normal" font-style="normal" >1.0</text>
<line x1="409.90" y1="321.90" x2="409.90" y2="326.40" stroke="#000" stroke-width="1.03" />
<text x="409.90" y="337.40" font-size="9.0" text-anchor="middle" fill="#000" stroke="#000" stroke-width="0.12" font-weight="normal" font-style="normal" >0</text>
<line x1="446.20" y1="321.90" x2="446.20" y2="326.40" stroke="#000" stroke-width="1.03" />
<text x="446.20" y="337.40" font-size="9.0" text-anchor="middle" fill="#000" stroke="#000" stroke-width="0.12" font-weight="normal" font-style="normal" >10</text>
<line x1="482.50" y1="321.90" x2="482.50" y2="326.40" stroke="#000" stroke-width="1.03" />
<text x="482.50" y="337.40" font-size="9.0" text-anchor="middle" fill="#000" stroke="#000" stroke-width="0.12" font-weight="normal" font-style="normal" >20</text>
<line x1="518.80" y1="321.90" x2="518.80" y2="326.40" stroke="#000" stroke-width="1.03" />
<text x="518.80" y="337.40" font-size="9.0" text-anchor="middle" fill="#000" stroke="#000" stroke-width="0.12" font-weight="normal" font-style="normal" >30</text>
<line x1="555.10" y1="321.90" x2="555.10" y2="326.40" stroke="#000" stroke-width="1.03" />
<text x="555.10" y="337.40" font-size="9.0" text-anchor="middle" fill="#000" stroke="#000" stroke-width="0.12" font-weight="normal" font-style="normal" >40</text>
<line x1="591.40" y1="321.90" x2="591.40" y2="326.40" stroke="#000" stroke-width="1.03" />
<text x="591.40" y="337.40" font-size="9.0" text-anchor="middle" fill="#000" stroke="#000" stroke-width="0.12" font-weight="normal" font-style="normal" >50</text>
<line x1="627.70" y1="321.90" x2="627.70" y2="326.40" stroke="#000" stroke-width="1.03" />
<text x="627.70" y="337.40" font-size="9.0" text-anchor="middle" fill="#000" stroke="#000" stroke-width="0.12" font-weight="normal" font-style="normal" >60</text>
<text x="520.70" y="351.60" font-size="10.28" text-anchor="middle" fill="#000" stroke="#000" stroke-width="0.12" font-weight="normal" font-style="normal" >Expected contacts per 3 months</text>
<text transform="translate(374.1,161.8) rotate(-90)" font-size="10.28" fill="#000" stroke="#000" stroke-width="0.12" text-anchor="middle">Infection probability</text>
<line x1="422.30" y1="8.50" x2="422.30" y2="18.90" stroke="#2ca02c" stroke-width="1.75" />
<line x1="415.95" y1="8.50" x2="428.65" y2="8.50" stroke="#2ca02c" stroke-width="1.75" />
<line x1="415.95" y1="18.90" x2="428.65" y2="18.90" stroke="#2ca02c" stroke-width="1.75" />
<circle cx="422.30" cy="13.70" r="2.6" fill="#2ca02c"/>
<line x1="412.00" y1="30.40" x2="432.60" y2="30.40" stroke="#000" stroke-width="2.0" stroke-dasharray="7.2 3.0"/>
<line x1="422.30" y1="39.90" x2="422.30" y2="50.30" stroke="#4682b4" stroke-width="1.75" />
<line x1="415.95" y1="39.90" x2="428.65" y2="39.90" stroke="#4682b4" stroke-width="1.75" />
<line x1="415.95" y1="50.30" x2="428.65" y2="50.30" stroke="#4682b4" stroke-width="1.75" />
<circle cx="422.30" cy="45.10" r="2.6" fill="#4682b4"/>
<text x="441.00" y="17.70" font-size="10.28" text-anchor="start" fill="#000" stroke="#000" stroke-width="0.12" font-weight="normal" font-style="normal" >Seroprevalence study</text>
<text x="444.3" y="32.7" font-size="10.28" fill="#000" stroke="#000" stroke-width="0.12" text-anchor="middle" font-style="normal">1</text>
<text x="461.8" y="33.6" font-size="11.8" fill="#000" stroke="#000" stroke-width="0.12" text-anchor="middle" font-style="normal">(</text>
<text x="467.2" y="32.7" font-size="10.28" fill="#000" stroke="#000" stroke-width="0.12" text-anchor="middle" font-style="normal">1</text>
<text x="485.9" y="32.7" font-size="10.28" fill="#000" stroke="#000" stroke-width="0.12" text-anchor="middle" font-style="italic">p</text>
<text x="491.0" y="33.6" font-size="11.8" fill="#000" stroke="#000" stroke-width="0.12" text-anchor="middle" font-style="normal">)</text>
<text x="496.1" y="29.0" font-size="7.2" fill="#000" stroke="#000" stroke-width="0.12" text-anchor="middle" font-style="italic">k</text>
<line x1="450.60" y1="29.80" x2="456.70" y2="29.80" stroke="#000" stroke-width="0.95" />
<line x1="473.50" y1="29.80" x2="479.60" y2="29.80" stroke="#000" stroke-width="0.95" />
<text x="441.00" y="49.30" font-size="10.28" text-anchor="start" fill="#000" stroke="#000" stroke-width="0.12" font-weight="normal" font-style="normal" >Model</text>
<text x="367.10" y="9.70" font-size="12.3" text-anchor="start" fill="#000" stroke="#000" stroke-width="0.12" font-weight="bold" font-style="normal" >b</text>
<line x1="459.90" y1="230.68" x2="459.90" y2="234.47" stroke="#4682b4" stroke-width="1.75" />
<line x1="453.55" y1="230.68" x2="466.25" y2="230.68" stroke="#4682b4" stroke-width="1.75" />
<line x1="453.55" y1="234.47" x2="466.25" y2="234.47" stroke="#4682b4" stroke-width="1.75" />
<line x1="477.86" y1="220.51" x2="477.86" y2="227.06" stroke="#4682b4" stroke-width="1.75" />
<line x1="471.51" y1="220.51" x2="484.21" y2="220.51" stroke="#4682b4" stroke-width="1.75" />
<line x1="471.51" y1="227.06" x2="484.21" y2="227.06" stroke="#4682b4" stroke-width="1.75" />
<line x1="495.82" y1="212.92" x2="495.82" y2="221.54" stroke="#4682b4" stroke-width="1.75" />
<line x1="489.47" y1="212.92" x2="502.17" y2="212.92" stroke="#4682b4" stroke-width="1.75" />
<line x1="489.47" y1="221.54" x2="502.17" y2="221.54" stroke="#4682b4" stroke-width="1.75" />
<line x1="513.78" y1="209.13" x2="513.78" y2="218.96" stroke="#4682b4" stroke-width="1.75" />
<line x1="507.43" y1="209.13" x2="520.13" y2="209.13" stroke="#4682b4" stroke-width="1.75" />
<line x1="507.43" y1="218.96" x2="520.13" y2="218.96" stroke="#4682b4" stroke-width="1.75" />
<line x1="531.74" y1="189.30" x2="531.74" y2="202.23" stroke="#4682b4" stroke-width="1.75" />
<line x1="525.39" y1="189.30" x2="538.09" y2="189.30" stroke="#4682b4" stroke-width="1.75" />
<line x1="525.39" y1="202.23" x2="538.09" y2="202.23" stroke="#4682b4" stroke-width="1.75" />
<line x1="549.70" y1="173.62" x2="549.70" y2="189.48" stroke="#4682b4" stroke-width="1.75" />
<line x1="543.35" y1="173.62" x2="556.05" y2="173.62" stroke="#4682b4" stroke-width="1.75" />
<line x1="543.35" y1="189.48" x2="556.05" y2="189.48" stroke="#4682b4" stroke-width="1.75" />
<line x1="567.66" y1="146.72" x2="567.66" y2="163.44" stroke="#4682b4" stroke-width="1.75" />
<line x1="561.31" y1="146.72" x2="574.01" y2="146.72" stroke="#4682b4" stroke-width="1.75" />
<line x1="561.31" y1="163.44" x2="574.01" y2="163.44" stroke="#4682b4" stroke-width="1.75" />
<line x1="585.62" y1="115.34" x2="585.62" y2="134.48" stroke="#4682b4" stroke-width="1.75" />
<line x1="579.27" y1="115.34" x2="591.97" y2="115.34" stroke="#4682b4" stroke-width="1.75" />
<line x1="579.27" y1="134.48" x2="591.97" y2="134.48" stroke="#4682b4" stroke-width="1.75" />
<line x1="603.58" y1="90.69" x2="603.58" y2="105.00" stroke="#4682b4" stroke-width="1.75" />
<line x1="597.23" y1="90.69" x2="609.93" y2="90.69" stroke="#4682b4" stroke-width="1.75" />
<line x1="597.23" y1="105.00" x2="609.93" y2="105.00" stroke="#4682b4" stroke-width="1.75" />
<line x1="621.54" y1="81.38" x2="621.54" y2="94.14" stroke="#4682b4" stroke-width="1.75" />
<line x1="615.19" y1="81.38" x2="627.89" y2="81.38" stroke="#4682b4" stroke-width="1.75" />
<line x1="615.19" y1="94.14" x2="627.89" y2="94.14" stroke="#4682b4" stroke-width="1.75" />
<line x1="639.50" y1="79.14" x2="639.50" y2="89.14" stroke="#4682b4" stroke-width="1.75" />
<line x1="633.15" y1="79.14" x2="645.85" y2="79.14" stroke="#4682b4" stroke-width="1.75" />
<line x1="633.15" y1="89.14" x2="645.85" y2="89.14" stroke="#4682b4" stroke-width="1.75" />
<line x1="459.90" y1="209.30" x2="459.90" y2="232.92" stroke="#2ca02c" stroke-width="1.75" />
<line x1="453.55" y1="209.30" x2="466.25" y2="209.30" stroke="#2ca02c" stroke-width="1.75" />
<line x1="453.55" y1="232.92" x2="466.25" y2="232.92" stroke="#2ca02c" stroke-width="1.75" />
<line x1="477.86" y1="209.30" x2="477.86" y2="233.96" stroke="#2ca02c" stroke-width="1.75" />
<line x1="471.51" y1="209.30" x2="484.21" y2="209.30" stroke="#2ca02c" stroke-width="1.75" />
<line x1="471.51" y1="233.96" x2="484.21" y2="233.96" stroke="#2ca02c" stroke-width="1.75" />
<line x1="495.82" y1="203.79" x2="495.82" y2="232.92" stroke="#2ca02c" stroke-width="1.75" />
<line x1="489.47" y1="203.79" x2="502.17" y2="203.79" stroke="#2ca02c" stroke-width="1.75" />
<line x1="489.47" y1="232.92" x2="502.17" y2="232.92" stroke="#2ca02c" stroke-width="1.75" />
<line x1="513.78" y1="195.17" x2="513.78" y2="231.03" stroke="#2ca02c" stroke-width="1.75" />
<line x1="507.43" y1="195.17" x2="520.13" y2="195.17" stroke="#2ca02c" stroke-width="1.75" />
<line x1="507.43" y1="231.03" x2="520.13" y2="231.03" stroke="#2ca02c" stroke-width="1.75" />
<line x1="531.74" y1="199.13" x2="531.74" y2="231.37" stroke="#2ca02c" stroke-width="1.75" />
<line x1="525.39" y1="199.13" x2="538.09" y2="199.13" stroke="#2ca02c" stroke-width="1.75" />
<line x1="525.39" y1="231.37" x2="538.09" y2="231.37" stroke="#2ca02c" stroke-width="1.75" />
<line x1="549.70" y1="166.72" x2="549.70" y2="214.65" stroke="#2ca02c" stroke-width="1.75" />
<line x1="543.35" y1="166.72" x2="556.05" y2="166.72" stroke="#2ca02c" stroke-width="1.75" />
<line x1="543.35" y1="214.65" x2="556.05" y2="214.65" stroke="#2ca02c" stroke-width="1.75" />
<line x1="567.66" y1="158.62" x2="567.66" y2="206.72" stroke="#2ca02c" stroke-width="1.75" />
<line x1="561.31" y1="158.62" x2="574.01" y2="158.62" stroke="#2ca02c" stroke-width="1.75" />
<line x1="561.31" y1="206.72" x2="574.01" y2="206.72" stroke="#2ca02c" stroke-width="1.75" />
<line x1="585.62" y1="156.20" x2="585.62" y2="228.44" stroke="#2ca02c" stroke-width="1.75" />
<line x1="579.27" y1="156.20" x2="591.97" y2="156.20" stroke="#2ca02c" stroke-width="1.75" />
<line x1="579.27" y1="228.44" x2="591.97" y2="228.44" stroke="#2ca02c" stroke-width="1.75" />
<line x1="603.58" y1="105.86" x2="603.58" y2="243.27" stroke="#2ca02c" stroke-width="1.75" />
<line x1="597.23" y1="105.86" x2="609.93" y2="105.86" stroke="#2ca02c" stroke-width="1.75" />
<line x1="597.23" y1="243.27" x2="609.93" y2="243.27" stroke="#2ca02c" stroke-width="1.75" />
<line x1="621.54" y1="73.80" x2="621.54" y2="242.23" stroke="#2ca02c" stroke-width="1.75" />
<line x1="615.19" y1="73.80" x2="627.89" y2="73.80" stroke="#2ca02c" stroke-width="1.75" />
<line x1="615.19" y1="242.23" x2="627.89" y2="242.23" stroke="#2ca02c" stroke-width="1.75" />
<line x1="639.50" y1="91.55" x2="639.50" y2="223.96" stroke="#2ca02c" stroke-width="1.75" />
<line x1="633.15" y1="91.55" x2="645.85" y2="91.55" stroke="#2ca02c" stroke-width="1.75" />
<line x1="633.15" y1="223.96" x2="645.85" y2="223.96" stroke="#2ca02c" stroke-width="1.75" />
<circle cx="459.90" cy="232.23" r="2.6" fill="#4682b4"/>
<circle cx="477.86" cy="223.09" r="2.6" fill="#4682b4"/>
<circle cx="495.82" cy="216.54" r="2.6" fill="#4682b4"/>
<circle cx="513.78" cy="215.16" r="2.6" fill="#4682b4"/>
<circle cx="531.74" cy="195.17" r="2.6" fill="#4682b4"/>
<circle cx="549.70" cy="181.55" r="2.6" fill="#4682b4"/>
<circle cx="567.66" cy="153.96" r="2.6" fill="#4682b4"/>
<circle cx="585.62" cy="125.34" r="2.6" fill="#4682b4"/>
<circle cx="603.58" cy="98.62" r="2.6" fill="#4682b4"/>
<circle cx="621.54" cy="88.62" r="2.6" fill="#4682b4"/>
<circle cx="639.50" cy="84.31" r="2.6" fill="#4682b4"/>
<circle cx="459.90" cy="221.89" r="2.6" fill="#2ca02c"/>
<circle cx="477.86" cy="224.47" r="2.6" fill="#2ca02c"/>
<circle cx="495.82" cy="220.85" r="2.6" fill="#2ca02c"/>
<circle cx="513.78" cy="216.54" r="2.6" fill="#2ca02c"/>
<circle cx="531.74" cy="218.27" r="2.6" fill="#2ca02c"/>
<circle cx="549.70" cy="192.24" r="2.6" fill="#2ca02c"/>
<circle cx="567.66" cy="184.48" r="2.6" fill="#2ca02c"/>
<circle cx="585.62" cy="199.13" r="2.6" fill="#2ca02c"/>
<circle cx="603.58" cy="201.37" r="2.6" fill="#2ca02c"/>
<circle cx="621.54" cy="158.10" r="2.6" fill="#2ca02c"/>
<circle cx="639.50" cy="158.10" r="2.6" fill="#2ca02c"/>
<line x1="648.40" y1="65.90" x2="648.40" y2="252.40" stroke="#000" stroke-width="1.03" />
<line x1="450.50" y1="251.90" x2="648.90" y2="251.90" stroke="#000" stroke-width="1.03" />
<line x1="648.40" y1="244.30" x2="652.90" y2="244.30" stroke="#000" stroke-width="1.03" />
<text x="658.00" y="247.50" font-size="9.0" text-anchor="start" fill="#000" stroke="#000" stroke-width="0.12" font-weight="normal" font-style="normal" >0.0</text>
<line x1="648.40" y1="209.82" x2="652.90" y2="209.82" stroke="#000" stroke-width="1.03" />
<text x="658.00" y="213.02" font-size="9.0" text-anchor="start" fill="#000" stroke="#000" stroke-width="0.12" font-weight="normal" font-style="normal" >0.2</text>
<line x1="648.40" y1="175.34" x2="652.90" y2="175.34" stroke="#000" stroke-width="1.03" />
<text x="658.00" y="178.54" font-size="9.0" text-anchor="start" fill="#000" stroke="#000" stroke-width="0.12" font-weight="normal" font-style="normal" >0.4</text>
<line x1="648.40" y1="140.86" x2="652.90" y2="140.86" stroke="#000" stroke-width="1.03" />
<text x="658.00" y="144.06" font-size="9.0" text-anchor="start" fill="#000" stroke="#000" stroke-width="0.12" font-weight="normal" font-style="normal" >0.6</text>
<line x1="648.40" y1="106.38" x2="652.90" y2="106.38" stroke="#000" stroke-width="1.03" />
<text x="658.00" y="109.58" font-size="9.0" text-anchor="start" fill="#000" stroke="#000" stroke-width="0.12" font-weight="normal" font-style="normal" >0.8</text>
<line x1="648.40" y1="71.90" x2="652.90" y2="71.90" stroke="#000" stroke-width="1.03" />
<text x="658.00" y="75.10" font-size="9.0" text-anchor="start" fill="#000" stroke="#000" stroke-width="0.12" font-weight="normal" font-style="normal" >1.0</text>
<line x1="459.90" y1="251.90" x2="459.90" y2="256.40" stroke="#000" stroke-width="1.03" />
<text transform="translate(462.20,261.4) rotate(-90)" font-size="9.0" fill="#000" stroke="#000" stroke-width="0.12" text-anchor="end">1</text>
<line x1="477.86" y1="251.90" x2="477.86" y2="256.40" stroke="#000" stroke-width="1.03" />
<text transform="translate(480.16,261.4) rotate(-90)" font-size="9.0" fill="#000" stroke="#000" stroke-width="0.12" text-anchor="end">2</text>
<line x1="495.82" y1="251.90" x2="495.82" y2="256.40" stroke="#000" stroke-width="1.03" />
<text transform="translate(498.12,261.4) rotate(-90)" font-size="9.0" fill="#000" stroke="#000" stroke-width="0.12" text-anchor="end">3</text>
<line x1="513.78" y1="251.90" x2="513.78" y2="256.40" stroke="#000" stroke-width="1.03" />
<text transform="translate(516.08,261.4) rotate(-90)" font-size="9.0" fill="#000" stroke="#000" stroke-width="0.12" text-anchor="end">4</text>
<line x1="531.74" y1="251.90" x2="531.74" y2="256.40" stroke="#000" stroke-width="1.03" />
<text transform="translate(534.04,261.4) rotate(-90)" font-size="9.0" fill="#000" stroke="#000" stroke-width="0.12" text-anchor="end">5-7</text>
<line x1="549.70" y1="251.90" x2="549.70" y2="256.40" stroke="#000" stroke-width="1.03" />
<text transform="translate(552.00,261.4) rotate(-90)" font-size="9.0" fill="#000" stroke="#000" stroke-width="0.12" text-anchor="end">8-10</text>
<line x1="567.66" y1="251.90" x2="567.66" y2="256.40" stroke="#000" stroke-width="1.03" />
<text transform="translate(569.96,261.4) rotate(-90)" font-size="9.0" fill="#000" stroke="#000" stroke-width="0.12" text-anchor="end">11-20</text>
<line x1="585.62" y1="251.90" x2="585.62" y2="256.40" stroke="#000" stroke-width="1.03" />
<text transform="translate(587.92,261.4) rotate(-90)" font-size="9.0" fill="#000" stroke="#000" stroke-width="0.12" text-anchor="end">21-30</text>
<line x1="603.58" y1="251.90" x2="603.58" y2="256.40" stroke="#000" stroke-width="1.03" />
<text transform="translate(605.88,261.4) rotate(-90)" font-size="9.0" fill="#000" stroke="#000" stroke-width="0.12" text-anchor="end">31-40</text>
<line x1="621.54" y1="251.90" x2="621.54" y2="256.40" stroke="#000" stroke-width="1.03" />
<text transform="translate(623.84,261.4) rotate(-90)" font-size="9.0" fill="#000" stroke="#000" stroke-width="0.12" text-anchor="end">41-50</text>
<line x1="639.50" y1="251.90" x2="639.50" y2="256.40" stroke="#000" stroke-width="1.03" />
<text transform="translate(641.80,261.4) rotate(-90)" font-size="9.0" fill="#000" stroke="#000" stroke-width="0.12" text-anchor="end">50+</text>
<text x="549.70" y="296.30" font-size="10.28" text-anchor="middle" fill="#000" stroke="#000" stroke-width="0.12" font-weight="normal" font-style="normal" >Expected contacts per 3 months</text>
<text transform="translate(683.2,158.4) rotate(-90)" font-size="10.28" fill="#000" stroke="#000" stroke-width="0.12" text-anchor="middle">Infection probability</text></svg>
</body></html>
